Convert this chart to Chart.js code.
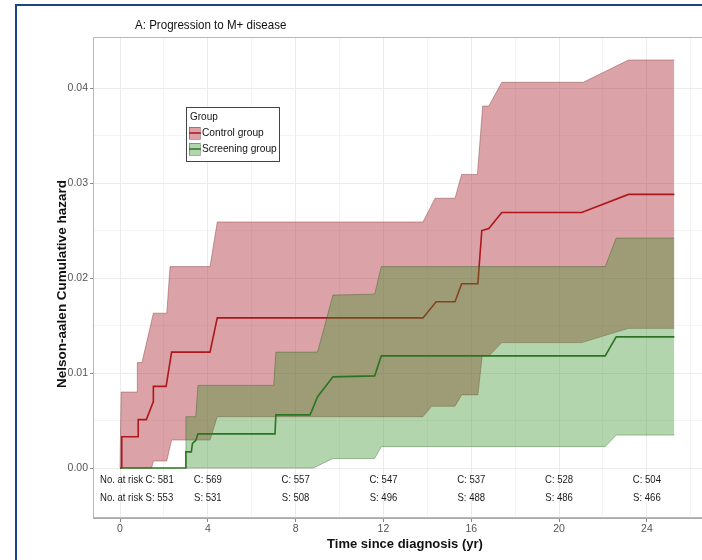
<!DOCTYPE html>
<html>
<head>
<meta charset="utf-8">
<script src="https://cdn.jsdelivr.net/npm/chart.js@4.4.1/dist/chart.umd.min.js"></script>
<style>
html,body{margin:0;padding:0;background:#fff;}
canvas{display:block;}
</style>
</head>
<body>
<canvas id="c" width="702" height="560"></canvas>
<script>
// ---- data ----
const titleText = "A: Progression to M+ disease";
const groupNames = ["Control group", "Screening group"];

const controlT   = [0,0.08,0.08,0.83,0.83,1.2,1.52,1.52,2.1,2.35,4.1,4.43,13.8,14.4,15.26,15.56,16.3,16.48,16.8,17.39,21.03,23.16,25.25];
const controlH   = [0,0,0.0033,0.0033,0.0051,0.0051,0.0070,0.0086,0.0086,0.0122,0.0122,0.0158,0.0158,0.0175,0.0175,0.0194,0.0194,0.0250,0.0252,0.0269,0.0269,0.0288,0.0288];
const controlUpT = [0,0.05,0.79,0.79,1.0,1.52,2.13,2.28,4.1,4.43,13.8,14.35,15.26,15.56,16.28,16.52,16.8,17.39,21.1,23.16,25.25];
const controlUpH = [0,0.008,0.008,0.0111,0.0111,0.0163,0.0163,0.0212,0.0212,0.0259,0.0259,0.0284,0.0284,0.0309,0.0309,0.0381,0.0381,0.0406,0.0406,0.04295,0.04295];
const controlLoT = [0,1.44,1.52,2.13,2.35,4.1,4.43,13.8,14.2,15.26,15.56,16.3,16.5,16.8,17.39,21.03,23.16,25.25];
const controlLoH = [0,0,0.00074,0.00074,0.00295,0.00295,0.0054,0.0054,0.0065,0.0065,0.0077,0.0077,0.0118,0.0118,0.0132,0.0132,0.0147,0.0147];

const screenT    = [0,3.0,3.0,3.25,3.3,3.45,3.55,7.06,7.1,8.66,9.0,9.7,11.6,11.9,22.1,22.6,25.25];
const screenH    = [0,0,0.0017,0.0017,0.0026,0.0029,0.0036,0.0036,0.0056,0.0056,0.0075,0.0096,0.0097,0.0118,0.0118,0.0138,0.0138];
const screenUpT  = [3.0,3.0,3.45,3.55,7.0,7.1,9.0,9.7,11.6,11.9,22.1,22.6,25.25];
const screenUpH  = [0,0.0054,0.0054,0.0087,0.0087,0.0122,0.0122,0.0182,0.0183,0.0212,0.0212,0.0242,0.0242];
const screenLoT  = [3.0,8.8,9.7,11.6,11.9,22.1,22.6,25.25];
const screenLoH  = [0,0,0.0010,0.0010,0.00225,0.00225,0.00347,0.00347];

const riskTimes  = [0,4,8,12,16,20,24];
const riskC      = [581,569,557,547,537,528,504];
const riskS      = [553,531,508,496,488,486,466];
const riskRowY   = [-0.00126,-0.00316];

const xTicks     = [0,2,4,6,8,10,12,14,16,18,20,22,24,26];
const yTicks     = [0,0.005,0.01,0.015,0.02,0.025,0.03,0.035,0.04];
const xRange     = [-1.23, 26.51];
const yRange     = [-0.00526, 0.04537];

// ---- styling ----
const FONT = "'Liberation Sans',Arial,sans-serif";
const redLine = '#ae161b', redFill = 'rgba(170,35,45,0.42)', redEdge = 'rgba(110,40,40,0.55)';
const grnLine = '#2b7522', grnFill = 'rgba(55,145,40,0.38)', grnEdge = 'rgba(45,85,35,0.55)';

const pts = (t, h) => t.map((v, i) => ({x: v, y: h[i]}));

function txt(ctx, s, x, y, align, sx) {
  ctx.save();
  ctx.translate(x, y);
  ctx.scale(sx, 1);
  ctx.textAlign = align;
  ctx.fillText(s, 0, 0);
  ctx.restore();
}

const decor = {
  id: 'decor',
  beforeDraw(chart) {
    const {ctx} = chart;
    ctx.save();
    ctx.fillStyle = '#fff';
    ctx.fillRect(0, 0, chart.width, chart.height);
    ctx.restore();
  },
  afterDraw(chart) {
    const {ctx, chartArea: a, scales} = chart;
    const xs = scales.x, ys = scales.y;
    ctx.save();
    ctx.textBaseline = 'middle';
    // panel border
    ctx.strokeStyle = '#b8b8b8';
    ctx.lineWidth = 1;
    ctx.strokeRect(a.left + 0.5, a.top + 0.5, a.right - a.left + 2, a.bottom - a.top - 1);
    // title
    ctx.fillStyle = '#111';
    ctx.font = "13px " + FONT;
    txt(ctx, titleText, 135, 25, 'left', 0.89);
    // axis titles
    ctx.font = "bold 13px " + FONT;
    txt(ctx, "Time since diagnosis (yr)", 405, 544, 'center', 1);
    ctx.save();
    ctx.translate(62, 284);
    ctx.rotate(-Math.PI / 2);
    ctx.font = "bold 13.5px " + FONT;
    txt(ctx, "Nelson-aalen Cumulative hazard", 0, 0, 'center', 1);
    ctx.restore();
    // risk table
    ctx.font = "11.5px " + FONT;
    ctx.fillStyle = '#1a1a1a';
    const rows = [['C', riskC], ['S', riskS]];
    rows.forEach((r, k) => {
      const y = ys.getPixelForValue(riskRowY[k]);
      riskTimes.forEach((t, i) => {
        const x = xs.getPixelForValue(t);
        const s = r[0] + ': ' + r[1][i];
        if (i === 0) txt(ctx, 'No. at risk ' + s, x - 20, y, 'left', 0.83);
        else txt(ctx, s, x, y, 'center', 0.83);
      });
    });
    // legend
    const lx = 186, ly = 107, lw = 93, lh = 54;
    ctx.fillStyle = '#fff';
    ctx.fillRect(lx, ly, lw, lh);
    ctx.strokeStyle = '#444';
    ctx.lineWidth = 1;
    ctx.strokeRect(lx + 0.5, ly + 0.5, lw, lh);
    ctx.fillStyle = '#111';
    ctx.font = "10.5px " + FONT;
    txt(ctx, 'Group', 190, 117, 'left', 0.95);
    const keys = [[redFill, redLine, redEdge], [grnFill, grnLine, grnEdge]];
    keys.forEach((k, i) => {
      const ky = 127 + i * 16;
      ctx.fillStyle = k[0];
      ctx.fillRect(189, ky, 11, 12);
      ctx.strokeStyle = k[2];
      ctx.lineWidth = 0.8;
      ctx.strokeRect(189.5, ky + 0.5, 11, 12);
      ctx.strokeStyle = k[1];
      ctx.lineWidth = 1.5;
      ctx.beginPath(); ctx.moveTo(189, ky + 6); ctx.lineTo(201, ky + 6); ctx.stroke();
      ctx.fillStyle = '#111';
      txt(ctx, groupNames[i], 202, ky + 6.5, 'left', 0.97);
    });
    // outer frame
    ctx.fillStyle = '#1d4482';
    ctx.fillRect(15, 4, 702 - 15, 2);
    ctx.fillRect(15, 4, 2, 560);
    ctx.restore();
  }
};

new Chart(document.getElementById('c'), {
  type: 'line',
  data: {
    datasets: [
      {label: 'S', data: pts(screenT, screenH), borderColor: grnLine, borderWidth: 1.6, fill: false},
      {label: 'S up', data: pts(screenUpT, screenUpH), borderColor: grnEdge, borderWidth: 0.7, fill: 2, backgroundColor: grnFill},
      {label: 'S lo', data: pts(screenLoT, screenLoH), borderColor: grnEdge, borderWidth: 0.7, fill: false},
      {label: 'C', data: pts(controlT, controlH), borderColor: redLine, borderWidth: 1.6, fill: false},
      {label: 'C up', data: pts(controlUpT, controlUpH), borderColor: redEdge, borderWidth: 0.7, fill: 5, backgroundColor: redFill},
      {label: 'C lo', data: pts(controlLoT, controlLoH), borderColor: redEdge, borderWidth: 0.7, fill: false}
    ]
  },
  options: {
    responsive: false,
    animation: false,
    layout: {padding: {left: 0, top: 37, right: 0, bottom: 0}},
    elements: {point: {radius: 0, hoverRadius: 0}, line: {tension: 0}},
    plugins: {legend: {display: false}, tooltip: {enabled: false}, title: {display: false}},
    events: [],
    scales: {
      x: {
        type: 'linear', min: xRange[0], max: xRange[1],
        afterBuildTicks: s => { s.ticks = xTicks.map(v => ({value: v})); },
        afterFit: s => { s.height = 42; },
        ticks: {
          autoSkip: false, maxRotation: 0, padding: 1, color: '#555',
          font: {family: FONT, size: 10.5},
          callback: v => (v % 4 === 0 ? String(v) : '')
        },
        grid: {
          color: '#ececec', lineWidth: c => (c.tick && c.tick.value % 4 === 0 ? 1 : 0.6),
          tickLength: 4,
          tickColor: c => (c.tick && c.tick.value % 4 === 0 ? '#888' : 'rgba(0,0,0,0)')
        },
        border: {display: true, color: '#a8a8a8', width: 1}
      },
      y: {
        type: 'linear', min: yRange[0], max: yRange[1],
        afterBuildTicks: s => { s.ticks = yTicks.map(v => ({value: v})); },
        afterFit: s => { s.width = 93; },
        ticks: {
          autoSkip: false, padding: 2, color: '#555',
          font: {family: FONT, size: 10.5},
          callback: v => (Math.round(v * 1000) % 10 === 0 ? v.toFixed(2) : '')
        },
        grid: {
          color: '#ececec', lineWidth: c => (c.tick && Math.round(c.tick.value * 1000) % 10 === 0 ? 1 : 0.6),
          tickLength: 3,
          tickColor: c => (c.tick && Math.round(c.tick.value * 1000) % 10 === 0 ? '#888' : 'rgba(0,0,0,0)')
        },
        border: {display: true, color: '#a8a8a8', width: 1}
      }
    }
  },
  plugins: [decor]
});
</script>
</body>
</html>
